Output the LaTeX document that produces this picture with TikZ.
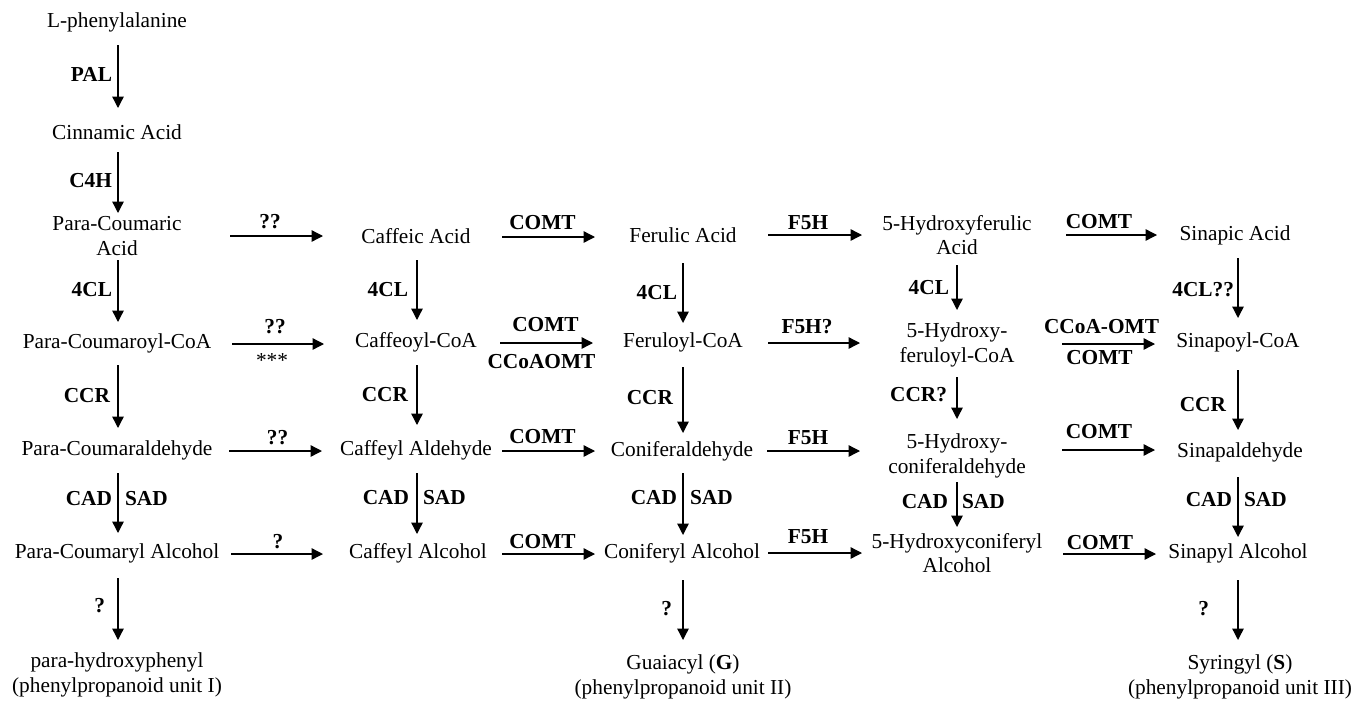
\documentclass[tikz,border=0pt]{standalone}
\usepackage{fontspec}
\setmainfont{Liberation Serif}
\usetikzlibrary{arrows.meta}
\begin{document}
\begin{tikzpicture}[x=0.75pt,y=-0.75pt,
  every node/.style={inner sep=0pt, outer sep=0pt, font=\fontsize{16}{18.5}\selectfont},
  ml/.style={align=center},
  lab/.style={font=\fontsize{16}{18.5}\selectfont\bfseries},
  arr/.style={line width=1pt, -{Triangle[length=8.5pt,width=8.5pt]}},
]
\useasboundingbox (0,0) rectangle (1355,700);

% column 1
\node (phe)   at (117,22)  {L-phenylalanine};
\node (cin)   at (117,132) {Cinnamic Acid};
\node[ml] (pca)   at (117,236) {Para-Coumaric\\Acid};
\node (pcoa)  at (117,343) {Para-Coumaroyl-CoA};
\node (pcald) at (117,450) {Para-Coumaraldehyde};
\node (pcalc) at (117,553) {Para-Coumaryl Alcohol};
\node[ml] (hunit) at (117,675) {para-hydroxyphenyl\\(phenylpropanoid unit I)};
% column 2
\node (caf)    at (416,236) {Caffeic Acid};
\node (cafcoa) at (416,342) {Caffeoyl-CoA};
\node (cafald) at (416,450) {Caffeyl Aldehyde};
\node (cafalc) at (418,553) {Caffeyl Alcohol};
% column 3
\node (fer)    at (683,235) {Ferulic Acid};
\node (fercoa) at (683,342) {Feruloyl-CoA};
\node (conald) at (682,451) {Coniferaldehyde};
\node (conalc) at (682,553) {Coniferyl Alcohol};
\node[ml] (gunit) at (683,677) {Guaiacyl (\textbf{G})\\(phenylpropanoid unit II)};
% column 4
\node[ml] (hfa)   at (957,235) {5-Hydroxyferulic\\Acid};
\node[ml] (hfcoa) at (957,345) {5-Hydroxy-\\feruloyl-CoA};
\node[ml] (hcald) at (957,456) {5-Hydroxy-\\coniferaldehyde};
\node[ml] (hcalc) at (957,553) {5-Hydroxyconiferyl\\Alcohol};
% column 5
\node (sin)    at (1235,235) {Sinapic Acid};
\node (sincoa) at (1238,342) {Sinapoyl-CoA};
\node (sinald) at (1240,452) {Sinapaldehyde};
\node (sinalc) at (1238,553) {Sinapyl Alcohol};
\node[ml] (sunit) at (1240,677) {Syringyl (\textbf{S})\\(phenylpropanoid unit III)};

% vertical arrows, column 1
\draw[arr] ([shift={(1,23)}]phe.center) -- ([shift={(1,-24)}]cin.center) node[lab,pos=.46,anchor=east,shift={(-6,0)}]{PAL};
\draw[arr] ([shift={(1,20)}]cin.center) -- ([shift={(1,-23)}]pca.center) node[lab,pos=.46,anchor=east,shift={(-6,0)}]{C4H};
\draw[arr] ([shift={(1,24)}]pca.center) -- ([shift={(1,-21)}]pcoa.center) node[lab,pos=.48,anchor=east,shift={(-6,0)}]{4CL};
\draw[arr] ([shift={(1,22)}]pcoa.center) -- ([shift={(1,-22)}]pcald.center) node[lab,pos=.48,anchor=east,shift={(-8,0)}]{CCR};
\draw[arr] ([shift={(1,23)}]pcald.center) -- ([shift={(1,-20)}]pcalc.center) node[lab,pos=.42,anchor=east,shift={(-6,0)}]{CAD} node[lab,pos=.42,anchor=west,shift={(7,0)}]{SAD};
\draw[arr] ([shift={(1,25)}]pcalc.center) -- ([shift={(1,-35)}]hunit.center) node[lab,pos=.44,anchor=east,shift={(-13,0)}]{?};
% column 2
\draw[arr] ([shift={(1,24)}]caf.center) -- ([shift={(1,-22)}]cafcoa.center) node[lab,pos=.5,anchor=east,shift={(-9,0)}]{4CL};
\draw[arr] ([shift={(1,23)}]cafcoa.center) -- ([shift={(1,-25)}]cafald.center) node[lab,pos=.5,anchor=east,shift={(-9,0)}]{CCR};
\draw[arr] ([shift={(1,23)}]cafald.center) -- ([shift={(-1,-19)}]cafalc.center) node[lab,pos=.41,anchor=east,shift={(-8,0)}]{CAD} node[lab,pos=.41,anchor=west,shift={(6,0)}]{SAD};
% column 3
\draw[arr] ([shift={(0,28)}]fer.center) -- ([shift={(0,-19)}]fercoa.center) node[lab,pos=.5,anchor=east,shift={(-6,0)}]{4CL};
\draw[arr] ([shift={(0,25)}]fercoa.center) -- ([shift={(1,-18)}]conald.center) node[lab,pos=.47,anchor=east,shift={(-10,0)}]{CCR};
\draw[arr] ([shift={(1,22)}]conald.center) -- ([shift={(1,-18)}]conalc.center) node[lab,pos=.40,anchor=east,shift={(-6,0)}]{CAD} node[lab,pos=.40,anchor=west,shift={(7,0)}]{SAD};
\draw[arr] ([shift={(1,27)}]conalc.center) -- ([shift={(0,-37)}]gunit.center) node[lab,pos=.47,anchor=east,shift={(-11,0)}]{?};
% column 4
\draw[arr] ([shift={(0,30)}]hfa.center) -- ([shift={(0,-35)}]hfcoa.center) node[lab,pos=.49,anchor=east,shift={(-8,0)}]{4CL};
\draw[arr] ([shift={(0,32)}]hfcoa.center) -- ([shift={(0,-37)}]hcald.center) node[lab,pos=.43,anchor=east,shift={(-10,0)}]{CCR?};
\draw[arr] ([shift={(0,26)}]hcald.center) -- ([shift={(0,-26)}]hcalc.center) node[lab,pos=.44,anchor=east,shift={(-9,0)}]{CAD} node[lab,pos=.44,anchor=west,shift={(5,0)}]{SAD};
% column 5
\draw[arr] ([shift={(3,23)}]sin.center) -- ([shift={(0,-24)}]sincoa.center) node[lab,pos=.53,anchor=east,shift={(-4,0)}]{4CL??};
\draw[arr] ([shift={(0,28)}]sincoa.center) -- ([shift={(-2,-22)}]sinald.center) node[lab,pos=.57,anchor=east,shift={(-12,0)}]{CCR};
\draw[arr] ([shift={(-2,25)}]sinald.center) -- ([shift={(0,-16)}]sinalc.center) node[lab,pos=.38,anchor=east,shift={(-6,0)}]{CAD} node[lab,pos=.38,anchor=west,shift={(6,0)}]{SAD};
\draw[arr] ([shift={(0,27)}]sinalc.center) -- ([shift={(-2,-37)}]sunit.center) node[lab,pos=.47,anchor=east,shift={(-29,0)}]{?};

% horizontal arrows, row 1
\draw[arr] ([shift={(113,0)}]pca.center) -- ([shift={(-93,0)}]caf.center) node[lab,pos=.5,shift={(-6.5,-14)}]{??};
\draw[arr] ([shift={(86,1)}]caf.center) -- ([shift={(-88,2)}]fer.center) node[lab,pos=.5,shift={(-6,-14)}]{COMT};
\draw[arr] ([shift={(85,0)}]fer.center) -- ([shift={(-95,0)}]hfa.center) node[lab,pos=.5,shift={(-7,-12)}]{F5H};
\draw[arr] ([shift={(109,0)}]hfa.center) -- ([shift={(-78,0)}]sin.center) node[lab,pos=.5,shift={(-12.5,-13)}]{COMT};
% row 2
\draw[arr] ([shift={(115,1)}]pcoa.center) -- ([shift={(-92,2)}]cafcoa.center) node[lab,pos=.5,shift={(-3,-17)}]{??} node[pos=.5,shift={(-6,16.5)}]{***};
\draw[arr] ([shift={(84,1)}]cafcoa.center) -- ([shift={(-90,1)}]fercoa.center) node[lab,pos=.5,shift={(-1,-18)}]{COMT} node[lab,pos=.5,shift={(-5,19)}]{CCoAOMT};
\draw[arr] ([shift={(85,1)}]fercoa.center) -- ([shift={(-97,-2)}]hfcoa.center) node[lab,pos=.5,shift={(-7,-16)}]{F5H?};
\draw[arr] ([shift={(105,-1)}]hfcoa.center) -- ([shift={(-83,2)}]sincoa.center) node[lab,pos=.5,shift={(-7,-17)}]{CCoA-OMT} node[lab,pos=.5,shift={(-9,14)}]{COMT};
% row 3
\draw[arr] ([shift={(112,1)}]pcald.center) -- ([shift={(-94,1)}]cafald.center) node[lab,pos=.5,shift={(2,-13)}]{??};
\draw[arr] ([shift={(86,1)}]cafald.center) -- ([shift={(-87,0)}]conald.center) node[lab,pos=.5,shift={(-6,-14)}]{COMT};
\draw[arr] ([shift={(85,0)}]conald.center) -- ([shift={(-97,-5)}]hcald.center) node[lab,pos=.5,shift={(-5.5,-13)}]{F5H};
\draw[arr] ([shift={(105,-6)}]hcald.center) -- ([shift={(-85,-2)}]sinald.center) node[lab,pos=.5,shift={(-9.5,-18)}]{COMT};
% row 4
\draw[arr] ([shift={(114,1)}]pcalc.center) -- ([shift={(-95,1)}]cafalc.center) node[lab,pos=.5,shift={(1,-12)}]{?};
\draw[arr] ([shift={(84,1)}]cafalc.center) -- ([shift={(-87,1)}]conalc.center) node[lab,pos=.5,shift={(-6,-12)}]{COMT};
\draw[arr] ([shift={(86,0)}]conalc.center) -- ([shift={(-95,0)}]hcalc.center) node[lab,pos=.5,shift={(-7,-16)}]{F5H};
\draw[arr] ([shift={(106,1)}]hcalc.center) -- ([shift={(-82,1)}]sinalc.center) node[lab,pos=.5,shift={(-9.5,-11)}]{COMT};
\end{tikzpicture}
\end{document}
